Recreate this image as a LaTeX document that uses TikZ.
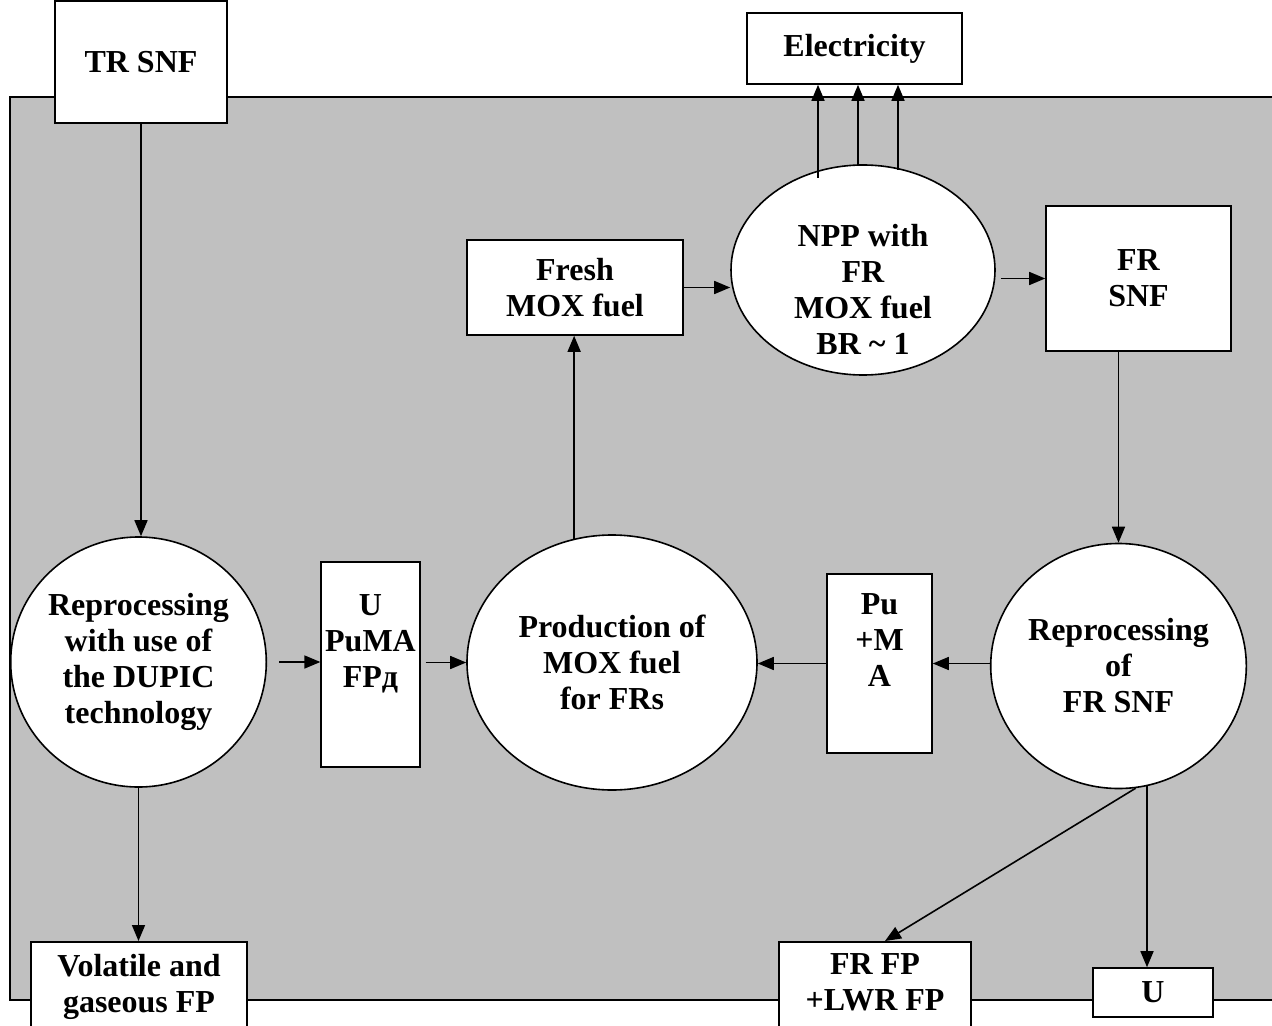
\documentclass[tikz,border=0pt]{standalone}
\usepackage{fontspec}
\setmainfont{Liberation Serif}
\usetikzlibrary{arrows.meta,positioning,shapes.geometric,calc}
\definecolor{panel}{RGB}{192,192,192}

\begin{document}
\begin{tikzpicture}[x=0.5pt,y=-0.5pt,font=\fontsize{16}{18}\selectfont\bfseries,
  box/.style={draw,fill=white,align=center,line width=0.8pt,inner sep=2pt},
  ell/.style={ellipse,draw,fill=white,align=center,line width=0.8pt,inner sep=0pt},
  arr/.style={-{Triangle[length=8pt,width=6.5pt]},line width=0.8pt}]
\useasboundingbox (0,0) rectangle (1272,1026);
\clip (0,0) rectangle (1272,1026);
\filldraw[fill=panel,line width=0.8pt] (10,97) rectangle (1300,1000);

\node[box,minimum width=86pt,minimum height=61pt] (trsnf) at (141,62) {TR SNF};
\node[box,minimum width=107.5pt,minimum height=35.5pt] (elec) at (854.5,48.5) {Electricity};
\node[ell,inner ysep=-12pt,minimum width=132pt,minimum height=105pt] (npp) at (863,270) {\strut\\NPP with\\FR\\MOX fuel\\BR \textasciitilde{} 1};
\node[box,minimum width=108pt,minimum height=47.5pt] (fresh) at (575,287.5) {Fresh\\MOX fuel};
\node[box,minimum width=92.5pt,minimum height=72.5pt] (frsnf) at (1138.5,278.5) {FR\\SNF};
\node[ell,minimum width=126.5pt,minimum height=125pt] (dupic) at (138.5,662) {Reprocessing\\with use of\\the DUPIC\\technology};
\node[box,minimum width=48.5pt,minimum height=102.5pt] (upuma) at (370.5,664.5) {U\\PuMA\\FPд\\\strut};
\node[ell,minimum width=145pt,minimum height=127.5pt] (prod) at (612,662.5) {Production of\\MOX fuel\\for FRs};
\node[box,minimum width=52.5pt,minimum height=89.5pt] (puma) at (879.5,663.5) {Pu\\+M\\A\\\strut};
\node[ell,minimum width=125.5pt,minimum height=122.5pt] (repfr) at (1118.5,666) {Reprocessing\\of\\FR SNF};
\node[box,anchor=north,minimum width=108pt,inner ysep=6pt] (volat) at (139,941) {Volatile and\\gaseous FP\strut};
\node[box,anchor=north,minimum width=96pt,inner ysep=6pt] (frfp) at (875,941) {FR FP\\+LWR FP\strut};
\node[box,minimum width=60pt,minimum height=24.5pt] (ubox) at (1153,992.5) {U};

\draw[arr] (trsnf.south) -- (trsnf.south |- dupic.north);
\draw[arr] ([xshift=6pt]dupic.east) -- (upuma.west |- dupic.east);
\draw[arr] ([xshift=2.5pt]upuma.east |- prod.west) -- (prod.west);
\draw[arr] (prod.107) -- (prod.107 |- fresh.south);
\draw[arr] (fresh.east) -- (npp.west |- fresh.east);
\draw[arr] ([xshift=2.5pt]npp.east |- frsnf.west) -- (frsnf.west);
\foreach \dx/\dy in {-45/-92,-5/-105,35/-100}{
  \coordinate (p) at ($(npp.center)+(\dx,\dy)$);
  \draw[arr] (p) -- (p |- elec.south);
}
\draw[arr] (repfr.north |- frsnf.south) -- (repfr.north);
\draw[arr] (repfr.west |- puma.east) -- (puma.east);
\draw[arr] (puma.west) -- (prod.east |- puma.west);
\draw[arr] (dupic.south) -- (dupic.south |- volat.north);
\draw[arr] (repfr.-82) -- ([xshift=5pt]frfp.north);
\coordinate (uin) at ([xshift=-3pt]ubox.north);
\draw[arr] (uin |- repfr.-77) -- (uin);
\end{tikzpicture}
\end{document}
